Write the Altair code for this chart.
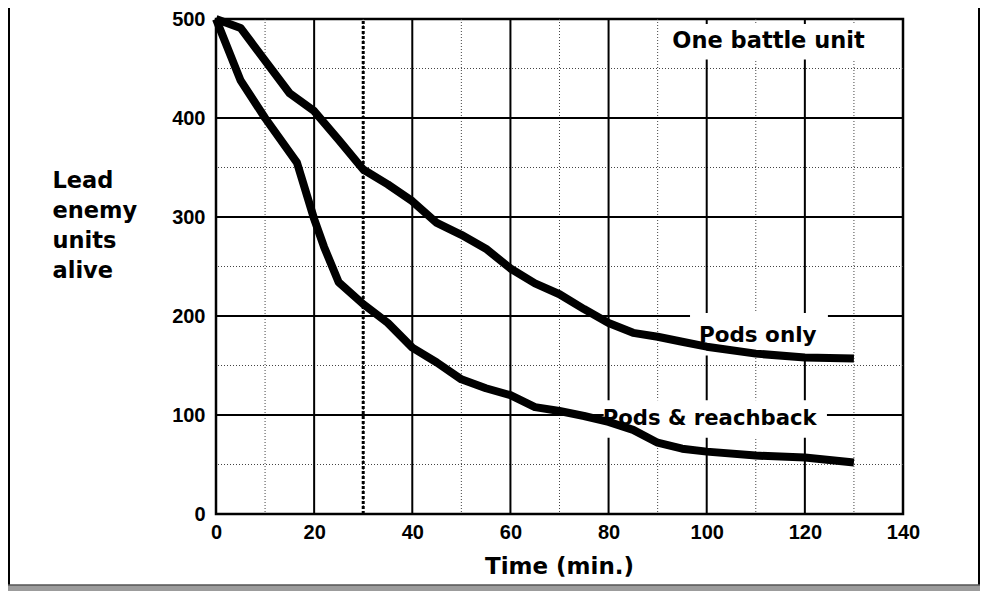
import altair as alt
import pandas as pd

# ---- data ----
pods_t = [0, 5, 10, 15, 20, 25, 30, 35, 40, 45, 50, 55, 60, 65, 70, 75, 80, 85, 90, 95, 100, 110, 120, 130]
pods_v = [500, 491, 458, 425, 407, 378, 348, 333, 316, 294, 282, 268, 248, 233, 222, 207, 193, 183, 179, 174, 169, 162, 158, 157]

reach_t = [0, 5, 10, 16.5, 20, 22, 25, 30, 35, 40, 45, 50, 55, 60, 65, 70, 75, 80, 85, 90, 95, 100, 110, 120, 130]
reach_v = [500, 438, 400, 355, 298, 270, 234, 212, 193, 168, 153, 136, 127, 120, 108, 104, 99, 93, 85, 72, 66, 63, 59, 57, 52]

x_ticks = [0, 20, 40, 60, 80, 100, 120, 140]
y_ticks = [0, 100, 200, 300, 400, 500]
x_major = [20, 40, 60, 80, 100, 120]
y_major = [100, 200, 300, 400]
x_minor = [10, 30, 50, 70, 90, 110, 130]
y_minor = [50, 150, 250, 350, 450]
marker_t = [30]

label_text = ["One battle unit", "Pods only", "Pods & reachback"]
label_t = [112.6, 110.4, 100.6]
label_v = [470.5, 174.2, 89.4]
label_size = [22.5, 21.5, 21.2]
box_t1 = [92, 96.6, 79]
box_t2 = [133, 124.7, 124.5]
box_v1 = [459, 160, 77]
box_v2 = [495, 203, 115]

# ---- tables ----
lines_df = pd.DataFrame({
    "t": pods_t + reach_t,
    "v": pods_v + reach_v,
    "series": ["Pods only"] * len(pods_t) + ["Pods & reachback"] * len(reach_t),
})
labels_df = pd.DataFrame({"text": label_text, "t": label_t, "v": label_v, "size": label_size})
boxes_df = pd.DataFrame({"t1": box_t1, "t2": box_t2, "v1": box_v1, "v2": box_v2})
one = pd.DataFrame({"k": [0]})

xscale = alt.Scale(domain=[0, 140], nice=False, zero=False)
yscale = alt.Scale(domain=[0, 500], nice=False, zero=False)

xaxis = alt.Axis(
    values=x_ticks, title="Time (min.)", ticks=False, domain=False, grid=False,
    labelFont="Liberation Sans", labelFontWeight="bold", labelFontSize=20, labelColor="black",
    labelPadding=8, labelFlush=False, labelOverlap=False,
    titleFont="DejaVu Sans", titleFontWeight="bold", titleFontSize=23, titleColor="black",
    titleX=343, titleY=52, titleBaseline="middle", titleAlign="center",
)
yaxis = alt.Axis(
    values=y_ticks, title=["Lead", "enemy", "units", "alive"], ticks=False, domain=False, grid=False,
    labelFont="Liberation Sans", labelFontWeight="bold", labelFontSize=20, labelColor="black",
    labelPadding=11, labelFlush=False, labelOverlap=False,
    titleFont="DejaVu Sans", titleFontWeight="bold", titleFontSize=22.5, titleColor="black",
    titleAngle=0, titleAlign="left", titleBaseline="alphabetic", titleX=-164, titleY=168,
    titleLineHeight=30,
)

def X(f):
    return alt.X(f, type="quantitative", scale=xscale, axis=xaxis)

def Y(f):
    return alt.Y(f, type="quantitative", scale=yscale, axis=yaxis)

xmin_df = pd.DataFrame({"t": x_minor})
ymin_df = pd.DataFrame({"v": y_minor})
xmaj_df = pd.DataFrame({"t": x_major})
ymaj_df = pd.DataFrame({"v": y_major})
mark_df = pd.DataFrame({"t": marker_t, "v0": [0], "v1": [500]})

minor_x = alt.Chart(xmin_df).mark_rule(color="#444", strokeWidth=1, strokeDash=[1, 2]).encode(x=X("t"))
minor_y = alt.Chart(ymin_df).mark_rule(color="#444", strokeWidth=1, strokeDash=[1, 2]).encode(y=Y("v"))
major_x = alt.Chart(xmaj_df).mark_rule(color="black", strokeWidth=2).encode(x=X("t"))
major_y = alt.Chart(ymaj_df).mark_rule(color="black", strokeWidth=2).encode(y=Y("v"))

boxes = alt.Chart(boxes_df).mark_rect(color="white").encode(
    x=X("t1"), x2="t2", y=Y("v1"), y2="v2"
)

marker = alt.Chart(mark_df).mark_rule(color="black", strokeWidth=3, strokeDash=[3, 2]).encode(
    x=X("t"), y=Y("v0"), y2="v1"
)

lines = alt.Chart(lines_df).mark_line(color="black", strokeWidth=8, strokeJoin="round").encode(
    x=X("t"), y=Y("v"), detail="series:N"
)

texts = alt.Chart(labels_df).mark_text(
    font="DejaVu Sans", fontWeight="bold", color="black", align="center", baseline="alphabetic"
).encode(x=X("t"), y=Y("v"), text="text:N", size=alt.Size("size:Q", scale=None, legend=None))

# decorative outer frame of the figure
frame_left = alt.Chart(one).mark_rule(color="black", strokeWidth=2).encode(
    x=alt.value(-207), y=alt.value(-11), y2=alt.value(566)
)
frame_right = alt.Chart(one).mark_rule(color="black", strokeWidth=2).encode(
    x=alt.value(763), y=alt.value(-11), y2=alt.value(566)
)
band = alt.Chart(one).mark_rect(color="#9c9c9c").encode(
    x=alt.value(-208), x2=alt.value(764), y=alt.value(566), y2=alt.value(572)
)
band_top = alt.Chart(one).mark_rule(color="#555", strokeWidth=1.5).encode(
    x=alt.value(-208), x2=alt.value(764), y=alt.value(566)
)

chart = alt.layer(
    minor_x, minor_y, major_x, major_y, boxes, marker, lines, texts,
    frame_left, frame_right, band, band_top,
).properties(
    width=687, height=495,
    padding={"left": 208, "top": 11, "right": 77, "bottom": 77},
    autosize=alt.AutoSizeParams(type="none"),
    background="white",
).configure_view(stroke="black", strokeWidth=2.5)

chart.save("out.html", embed_options={"renderer": "svg", "actions": False})
